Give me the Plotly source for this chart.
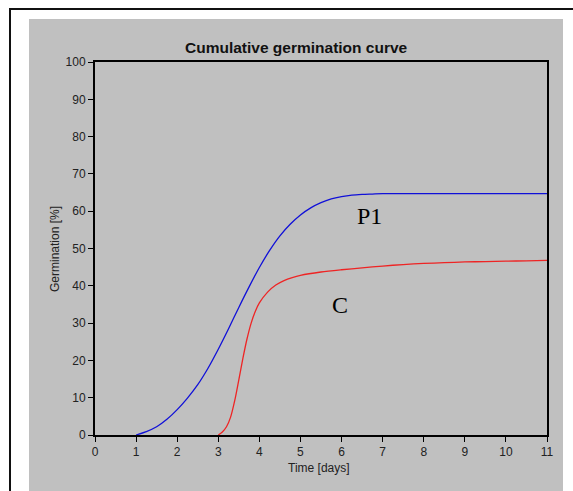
import plotly.graph_objects as go

# ---- data ----
p1_days = [1.0, 1.25, 1.5, 1.75, 2.0, 2.25, 2.5, 2.75, 3.0, 3.25, 3.5, 3.75, 4.0, 4.25,
           4.5, 4.75, 5.0, 5.25, 5.5, 5.75, 6.0, 6.25, 6.5, 6.75, 7.0, 8.0, 9.0, 10.0, 11.0]
p1_germ = [0.0, 0.9, 2.2, 4.2, 6.8, 9.9, 13.5, 17.9, 23.0, 28.5, 34.2, 39.7, 44.9, 49.5,
           53.4, 56.5, 59.0, 60.9, 62.3, 63.3, 63.9, 64.3, 64.5, 64.6, 64.7, 64.7, 64.7, 64.7, 64.7]

c_days = [3.0, 3.1, 3.2, 3.3, 3.4, 3.5, 3.6, 3.7, 3.8, 3.9, 4.0, 4.2, 4.4, 4.6, 4.8, 5.0,
          5.5, 6.0, 6.5, 7.0, 7.5, 8.0, 8.5, 9.0, 9.5, 10.0, 10.5, 11.0]
c_germ = [0.0, 0.8, 2.2, 4.8, 9.2, 14.8, 20.6, 25.8, 30.0, 33.1, 35.4, 38.3, 40.2, 41.4, 42.2, 42.8,
          43.7, 44.3, 44.8, 45.3, 45.7, 46.0, 46.2, 46.4, 46.5, 46.6, 46.7, 46.8]

x_ticks = list(range(0, 12))
y_ticks = list(range(0, 101, 10))

title_text = "Cumulative germination curve"
x_title = "Time [days]"
y_title = "Germination [%]"
series_labels = ["P1", "C"]
label_pos = [(6.67, 58.7), (5.96, 34.9)]

# ---- figure ----
W, H = 573, 491
L, R, T, B = 95, 26, 62, 56
pw, ph = W - L - R, H - T - B


def px(xp):
    return (xp - L) / pw


def py(yp):
    return (H - B - yp) / ph


GRAY = "#c0c0c0"
fig = go.Figure()
fig.add_trace(go.Scatter(x=p1_days, y=p1_germ, mode="lines",
                         line=dict(color="#1010d8", width=1.3, shape="spline", smoothing=0.8),
                         hoverinfo="skip"))
fig.add_trace(go.Scatter(x=c_days, y=c_germ, mode="lines",
                         line=dict(color="#ee2424", width=1.3, shape="spline", smoothing=0.8),
                         hoverinfo="skip"))

shapes = [
    dict(type="rect", xref="paper", yref="paper", x0=px(29), x1=px(563), y0=py(500), y1=py(19),
         fillcolor=GRAY, line=dict(width=0), layer="below"),
    dict(type="line", xref="paper", yref="paper", x0=px(9), x1=px(590), y0=py(9), y1=py(9),
         line=dict(color="#111111", width=2)),
    dict(type="line", xref="paper", yref="paper", x0=px(10), x1=px(10), y0=py(9), y1=py(500),
         line=dict(color="#111111", width=2)),
]

annotations = [
    dict(text="<b>" + title_text + "</b>", xref="paper", yref="paper", x=px(296), y=py(48),
         showarrow=False, xanchor="center", yanchor="middle",
         font=dict(family="Liberation Sans, Arial", size=15.5, color="#111111")),
    dict(text=x_title, xref="paper", yref="paper", x=px(319), y=py(468),
         showarrow=False, xanchor="center", yanchor="middle",
         font=dict(family="Liberation Sans, Arial", size=12, color="#222222")),
    dict(text=y_title, xref="paper", yref="paper", x=px(55), y=py(249), textangle=-90,
         showarrow=False, xanchor="center", yanchor="middle",
         font=dict(family="Liberation Sans, Arial", size=12, color="#222222")),
]
for lab, (lx, ly) in zip(series_labels, label_pos):
    annotations.append(dict(text=lab, x=lx, y=ly, xref="x", yref="y", showarrow=False,
                            xanchor="center", yanchor="middle",
                            font=dict(family="Liberation Serif, Times New Roman", size=24,
                                      color="#000000")))

axis_common = dict(showline=True, linecolor="#000000", linewidth=2, mirror=True,
                   ticks="outside", ticklen=5, tickwidth=1, tickcolor="#000000",
                   showgrid=False, zeroline=False,
                   tickfont=dict(family="Liberation Sans, Arial", size=12, color="#222222"))

fig.update_layout(
    width=W, height=H,
    margin=dict(l=L, r=R, t=T, b=B),
    paper_bgcolor="white", plot_bgcolor=GRAY,
    showlegend=False,
    shapes=shapes, annotations=annotations,
    xaxis=dict(range=[0, 11], tickvals=x_ticks, **axis_common),
    yaxis=dict(range=[0, 100], tickvals=y_ticks, **axis_common),
)

fig.write_html("out.html", config={"displayModeBar": False})
